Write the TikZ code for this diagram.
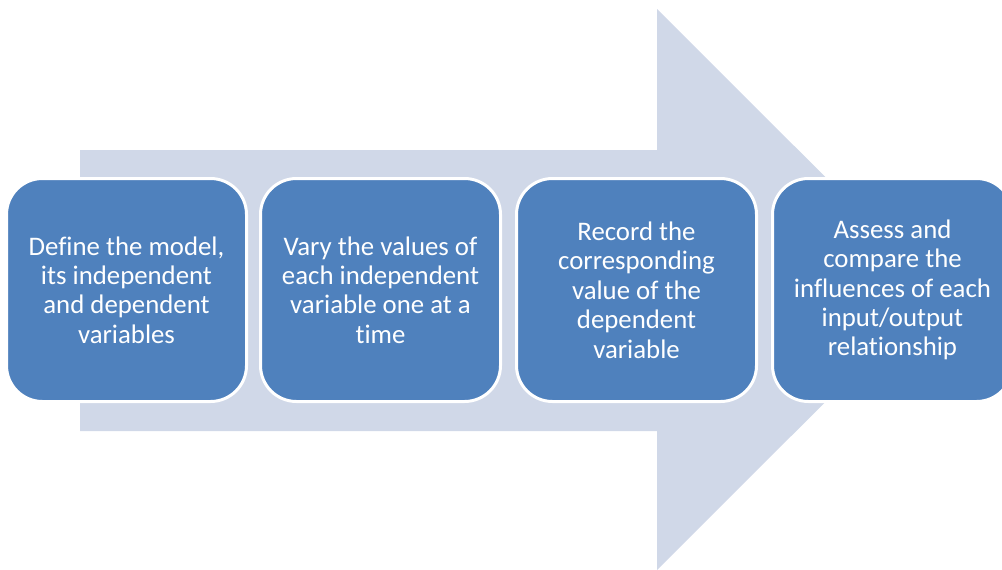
\documentclass[tikz,border=0pt]{standalone}
\usepackage{fontspec}
\setmainfont[Ligatures=NoCommon]{Carlito}
\definecolor{boxblue}{HTML}{4F81BD}
\definecolor{arrowgrey}{HTML}{D0D8E8}
\begin{document}
\begin{tikzpicture}[x=1pt,y=-1pt,
  stepbox/.style={fill=boxblue, draw=white, line width=3pt, rounded corners=36pt,
    minimum width=240pt, minimum height=223pt, align=center,
    text=white, font=\fontsize{26.8}{29.4}\selectfont, inner sep=0pt},
  bigarrow/.style={fill=arrowgrey, draw=none}]
\useasboundingbox (0,0) rectangle (1002,570);
\clip (0,0) rectangle (1002,570);
\fill[bigarrow] (80,150) -- (657,150) -- (657,9) -- (938,289.5) -- (657,570) -- (657,431) -- (80,431) -- cycle;
\node[stepbox] (s1) at (126.5,290) {Define the model,\\its independent\\and dependent\\variables};
\node[stepbox] (s2) at (380.5,290) {Vary the values of\\each independent\\variable one at a\\time};
\node[stepbox] (s3) at (636.5,290) {Record the\\corresponding\\value of the\\dependent\\variable};
\node[stepbox] (s4) at (892.5,290) {Assess and\\compare the\\influences of each\\input/output\\relationship};
\end{tikzpicture}
\end{document}
